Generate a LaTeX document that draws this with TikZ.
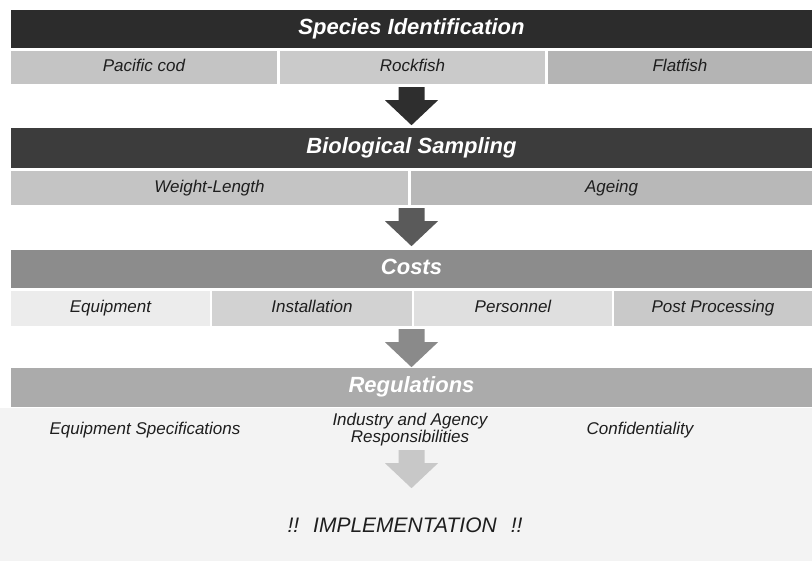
\documentclass[tikz,border=0pt]{standalone}
\usepackage{fontspec}
\setmainfont{Liberation Sans}
\usetikzlibrary{calc}

% shades of the stages
\definecolor{hdOne}{HTML}{2C2C2C}
\definecolor{hdTwo}{HTML}{3C3C3C}
\definecolor{hdThree}{HTML}{8C8C8C}
\definecolor{hdFour}{HTML}{ABABAB}
\definecolor{cellA}{HTML}{C4C4C4}
\definecolor{cellB}{HTML}{CACACA}
\definecolor{cellC}{HTML}{B4B4B4}
\definecolor{cellD}{HTML}{B8B8B8}
\definecolor{cellE}{HTML}{ECECEC}
\definecolor{cellF}{HTML}{D2D2D2}
\definecolor{cellG}{HTML}{DFDFDF}
\definecolor{cellH}{HTML}{C9C9C9}
\definecolor{arOne}{HTML}{2E2E2E}
\definecolor{arTwo}{HTML}{5A5A5A}
\definecolor{arThree}{HTML}{8A8A8A}
\definecolor{arFour}{HTML}{C8C8C8}
\definecolor{paper}{HTML}{F3F3F3}
\definecolor{ink}{HTML}{1E1E1E}

% block arrow under node #1, centred on node #2
\newcommand{\stagearrow}[3]{%
  \fill[#3] let \p1 = (#1.south), \p2 = (#2) in
    (\x2-13pt,\y1-3pt) -- (\x2+13pt,\y1-3pt) -- (\x2+13pt,\y1-16pt)
    -- (\x2+26.5pt,\y1-16pt) -- (\x2,\y1-41pt) -- (\x2-26.5pt,\y1-16pt)
    -- (\x2-13pt,\y1-16pt) -- cycle;
}

\begin{document}
\begin{tikzpicture}[
        x=1pt, y=-1pt,
        stage/.style={rectangle, inner sep=0pt, minimum width=801pt,
            text height=16pt, text depth=5pt, text=white,
            font=\bfseries\itshape\fontsize{22}{24}\selectfont},
        cell/.style={rectangle, inner sep=0pt, text=ink,
            text height=12.5pt, text depth=3.5pt,
            font=\itshape\fontsize{17}{17}\selectfont},
        plain/.style={inner sep=0pt, text=ink, align=center, minimum height=34pt,
            font=\itshape\fontsize{17}{17}\selectfont}
    ]
    \useasboundingbox (0,0) rectangle (812,561);

    % Speckled paper at the foot
    \fill[paper] (0,408) rectangle (812,561);

    % Species Identification
    \node[stage, fill=hdOne, minimum height=38pt] (h1) at (411.5,29) {Species Identification};
    \node[cell, fill=cellA, minimum width=266pt, minimum height=33pt] (r1a) at (144,67.5) {Pacific cod};
    \node[cell, fill=cellB, minimum width=265pt, minimum height=33pt] (r1b) at (412.5,67.5) {Rockfish};
    \node[cell, fill=cellC, minimum width=264pt, minimum height=33pt] (r1c) at (680,67.5) {Flatfish};

    % Biological Sampling
    \node[stage, fill=hdTwo, minimum height=40pt] (h2) at (411.5,148) {Biological Sampling};
    \node[cell, fill=cellA, minimum width=397pt, minimum height=34pt] (r2a) at (209.5,188) {Weight-Length};
    \node[cell, fill=cellD, minimum width=401pt, minimum height=34pt] (r2b) at (611.5,188) {Ageing};

    % Costs
    \node[stage, fill=hdThree, minimum height=38pt] (h3) at (411.5,269) {Costs};
    \node[cell, fill=cellE, minimum width=199pt, minimum height=35pt] (r3a) at (110.5,308.5) {Equipment};
    \node[cell, fill=cellF, minimum width=200pt, minimum height=35pt] (r3b) at (312,308.5) {Installation};
    \node[cell, fill=cellG, minimum width=198pt, minimum height=35pt] (r3c) at (513,308.5) {Personnel};
    \node[cell, fill=cellH, minimum width=198pt, minimum height=35pt] (r3d) at (713,308.5) {Post Processing};

    % Regulations
    \node[stage, fill=hdFour, minimum height=39pt] (h4) at (411.5,387.5) {Regulations};
    \node[plain] (r4a) at (145,430) {Equipment Specifications};
    \node[plain] (r4b) at (410,430) {Industry and Agency\\Responsibilities};
    \node[plain] (r4c) at (640,430) {Confidentiality};

    % Implementation
    \node[inner sep=0pt, text=ink, font=\itshape\fontsize{21}{24}\selectfont] (impl) at (405,525)
        {!!\hspace{14pt}IMPLEMENTATION\hspace{14pt}!!};

    % Arrows between the stages
    \stagearrow{r1b}{h2}{arOne}
    \stagearrow{r2a}{h3}{arTwo}
    \stagearrow{r3b}{h4}{arThree}
    \stagearrow{r4b}{h4}{arFour}

\end{tikzpicture}
\end{document}
